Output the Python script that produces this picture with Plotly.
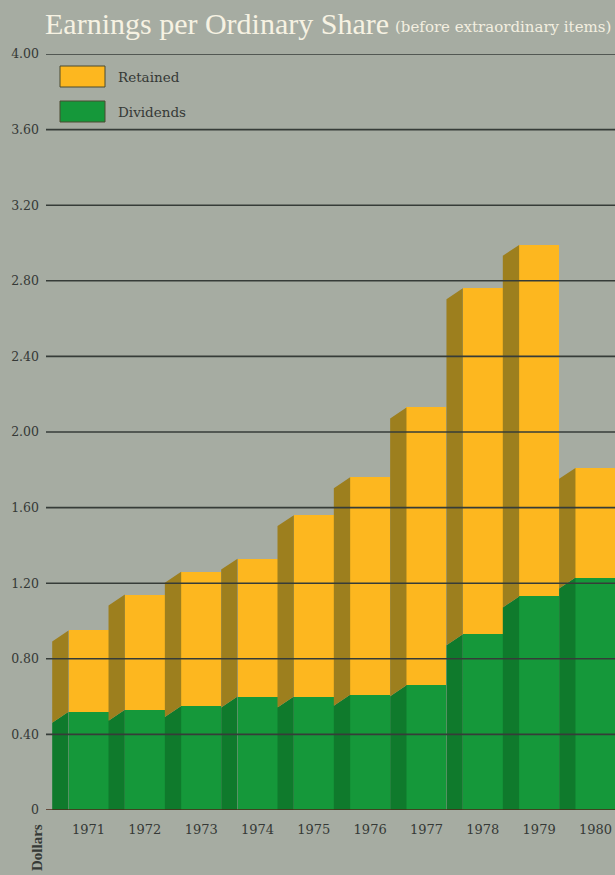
import plotly.graph_objects as go

# ---- data ----
years = [1971, 1972, 1973, 1974, 1975, 1976, 1977, 1978, 1979, 1980]
dividends = [0.52, 0.53, 0.55, 0.60, 0.60, 0.61, 0.66, 0.93, 1.13, 1.23]
totals = [0.95, 1.14, 1.26, 1.33, 1.56, 1.76, 2.13, 2.76, 2.99, 1.81]
retained = [round(t - d, 2) for t, d in zip(totals, dividends)]
y_ticks = [0, 0.4, 0.8, 1.2, 1.6, 2.0, 2.4, 2.8, 3.2, 3.6, 4.0]
y_ticktext = ["0", "0.40", "0.80", "1.20", "1.60", "2.00", "2.40", "2.80", "3.20", "3.60", "4.00"]
series_names = ["Retained", "Dividends"]

# ---- style ----
W, H = 615, 875
ML, MR, MT, MB = 46, 0, 54, 65
BG = "#a6aca2"
GREEN = "#15983a"
GREEN_SIDE = "#0f7a2c"
ORANGE = "#fdb71f"
ORANGE_SIDE = "#9d7f1e"
GRID = "#363c38"
BASE = "#4e2a18"
TXT = "#353936"
FRONT_W = 0.71
SIDE_W = 0.29
DEPTH = 0.058  # slant drop of side face (data units)
X_RANGE = [1970.245, 1980.347]
Y_RANGE = [0, 4.0]

pw = W - ML - MR
ph = H - MT - MB


def px_x(px):
    return (px - ML) / pw


def px_y(py):
    return (H - MB - py) / ph


fig = go.Figure()


def side_polys(bottoms_left, bottoms_right, tops_right, tops_left):
    xs, ys = [], []
    for yr, bl, br, tr, tl in zip(years, bottoms_left, bottoms_right, tops_right, tops_left):
        L = yr - FRONT_W / 2 - SIDE_W
        R = yr - FRONT_W / 2
        xs += [L, R, R, L, L, None]
        ys += [bl, br, tr, tl, bl, None]
    return xs, ys


zeros = [0] * len(years)
dx, dy = side_polys(zeros, zeros, dividends, [d - DEPTH for d in dividends])
fig.add_trace(go.Scatter(x=dx, y=dy, mode="lines", fill="toself", fillcolor=GREEN_SIDE,
                         line=dict(width=0), hoverinfo="skip", showlegend=False))
rx, ry = side_polys([d - DEPTH for d in dividends], dividends, totals, [t - DEPTH for t in totals])
fig.add_trace(go.Scatter(x=rx, y=ry, mode="lines", fill="toself", fillcolor=ORANGE_SIDE,
                         line=dict(width=0), hoverinfo="skip", showlegend=False))

# front faces
fig.add_trace(go.Bar(x=years, y=dividends, width=FRONT_W, name="Dividends",
                     marker=dict(color=GREEN, line=dict(width=0)), showlegend=False))
fig.add_trace(go.Bar(x=years, y=retained, width=FRONT_W, name="Retained",
                     marker=dict(color=ORANGE, line=dict(width=0)), showlegend=False))

# gridlines above bars
shapes = []
for v in y_ticks:
    shapes.append(dict(type="line", xref="paper", x0=0, x1=1, yref="y", y0=v, y1=v,
                       line=dict(color=BASE if v == 0 else GRID, width=1.6), layer="above"))

# custom legend swatches
legend_colors = [ORANGE, GREEN]
legend_tops = [66, 101]
annotations = []
for name, col, top in zip(series_names, legend_colors, legend_tops):
    shapes.append(dict(type="rect", xref="paper", yref="paper",
                       x0=px_x(60), x1=px_x(105), y0=px_y(top), y1=px_y(top + 21),
                       fillcolor=col, line=dict(color="#4a4a30", width=1), layer="above"))
    annotations.append(dict(xref="paper", yref="paper", x=px_x(116), y=px_y(top + 10.5),
                            text=name, showarrow=False, xanchor="left", yanchor="middle",
                            font=dict(family="DejaVu Serif", size=13.5, color=TXT)))

# title
annotations.append(dict(xref="paper", yref="paper", x=px_x(43), y=px_y(24),
                        text="Earnings per Ordinary Share", showarrow=False,
                        xanchor="left", yanchor="middle",
                        font=dict(family="Liberation Serif", size=30, color="#f6f2e2")))
annotations.append(dict(xref="paper", yref="paper", x=px_x(613), y=px_y(27),
                        text="(before extraordinary items)", showarrow=False,
                        xanchor="right", yanchor="middle",
                        font=dict(family="DejaVu Serif", size=15, color="#f3efe0")))
# axis title
annotations.append(dict(xref="paper", yref="paper", x=px_x(37), y=px_y(848),
                        text="<b>Dollars</b>", showarrow=False, textangle=-90,
                        xanchor="center", yanchor="middle",
                        font=dict(family="Liberation Serif", size=15, color=TXT)))

fig.update_layout(
    width=W, height=H,
    margin=dict(l=ML, r=MR, t=MT, b=MB, pad=0),
    paper_bgcolor=BG, plot_bgcolor=BG,
    barmode="stack", bargap=0,
    shapes=shapes, annotations=annotations,
    showlegend=False,
)
fig.update_xaxes(range=X_RANGE, tickvals=years, ticktext=[str(y) for y in years],
                 showgrid=False, zeroline=False, showline=False, ticks="",
                 ticklabelstandoff=10,
                 tickfont=dict(family="DejaVu Serif", size=13, color=TXT), fixedrange=True)
fig.update_yaxes(range=Y_RANGE, tickvals=y_ticks, ticktext=y_ticktext,
                 showgrid=False, zeroline=False, showline=False, ticks="",
                 ticklabelstandoff=6,
                 tickfont=dict(family="DejaVu Serif", size=12.5, color=TXT), fixedrange=True)

fig.write_html("out.html")
